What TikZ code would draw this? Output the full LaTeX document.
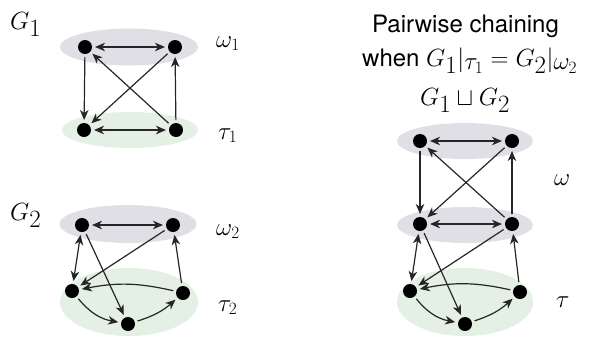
\documentclass[tikz,border=0pt]{standalone}
\usepackage{fontspec}
\setsansfont{TeX Gyre Heros}
\usetikzlibrary{arrows.meta}
\DeclareMathSizes{29}{29}{23}{18}
\DeclareMathSizes{28}{28}{23}{18}
\DeclareMathSizes{24}{24}{19}{15}
\definecolor{gcol}{HTML}{E0DFE6}
\definecolor{tcol}{HTML}{E3F0E3}
\begin{document}
\begin{tikzpicture}[x=1pt,y=-1pt,
  dot/.style={circle,fill=black,minimum size=14pt,inner sep=0pt,outer sep=3pt},
  edge/.style={draw=black!85,line width=1.2pt,-{Stealth[length=10pt,width=8.5pt,inset=3pt]}},
  bi/.style={draw=black!85,line width=1.2pt,{Stealth[length=10pt,width=8.5pt,inset=3pt]}-{Stealth[length=10pt,width=8.5pt,inset=3pt]}},
  biglab/.style={anchor=base west,inner sep=0pt,font=\fontsize{29}{32}\selectfont},
  lab/.style={anchor=base west,inner sep=0pt,font=\fontsize{24}{28}\selectfont},
  txt/.style={anchor=base west,inner sep=0pt,font=\sffamily\fontsize{24}{28}\selectfont}]
\useasboundingbox (0,0) rectangle (592,338);
% ellipses
\fill[gcol] (129,47) ellipse [x radius=69, y radius=18.5];
\fill[tcol] (130,130) ellipse [x radius=68, y radius=18];
\fill[gcol] (128,224) ellipse [x radius=68.5, y radius=19];
\fill[tcol] (129,302) ellipse [x radius=69, y radius=34];
\fill[gcol] (465,141) ellipse [x radius=68, y radius=18];
\fill[gcol] (465,225) ellipse [x radius=68, y radius=18];
\fill[tcol] (465,302) ellipse [x radius=68, y radius=34];
% labels
\node[biglab] (g1) at (10,29) {$G_1$};
\node[biglab] (g2) at (10,220) {$G_2$};
\node[lab] (w1) at (216,47) {$\omega_1$};
\node[lab] (t1) at (218,139) {$\tau_1$};
\node[lab] (w2) at (216,235) {$\omega_2$};
\node[lab] (t2) at (218,311) {$\tau_2$};
\node[lab] (w) at (554,185) {$\omega$};
\node[lab] (t) at (556,307) {$\tau$};
\node[txt] (p1) at (372,32) {Pairwise chaining};
\node[txt] (p2) at (362,66) {when {\fontsize{28}{30}\selectfont$G_1|_{\tau_1} = G_2|_{\omega_2}$}};
\node[anchor=base,inner sep=0pt,font=\fontsize{29}{32}\selectfont] (p3) at (465,105) {$G_1 \sqcup G_2$};
% G1
\node[dot] (a1) at (85,47) {};
\node[dot] (b1) at (175,47) {};
\node[dot] (c1) at (84,130) {};
\node[dot] (d1) at (176,130) {};
\draw[bi] (a1) -- (b1);
\draw[bi] (c1) -- (d1);
\draw[edge] (a1) -- (c1);
\draw[edge] (d1) -- (b1);
\draw[edge] (d1) -- (a1);
\draw[edge] (b1) -- (c1);
% G2
\node[dot] (a2) at (82,225) {};
\node[dot] (b2) at (173,225) {};
\node[dot] (l2) at (72,291) {};
\node[dot] (r2) at (183,293) {};
\node[dot] (m2) at (128,324) {};
\draw[bi] (a2) -- (b2);
\draw[bi] (a2) -- (l2);
\draw[edge] (b2) -- (l2);
\draw[edge] (a2) -- (m2);
\draw[edge] (r2) -- (b2);
\draw[edge] (r2) to[bend right=12] (l2);
\draw[edge] (l2) to[bend right=20] (m2);
\draw[edge] (m2) to[bend right=12] (r2);
% G1 u G2
\node[dot] (a3) at (420,141) {};
\node[dot] (b3) at (512,141) {};
\node[dot] (c3) at (420,224) {};
\node[dot] (d3) at (512,224) {};
\node[dot] (l3) at (410,291) {};
\node[dot] (r3) at (520,292) {};
\node[dot] (m3) at (465,324) {};
\draw[bi] (a3) -- (b3);
\draw[bi] (c3) -- (d3);
\draw[edge] (a3) -- (c3);
\draw[edge] (d3) -- (b3);
\draw[edge] (d3) -- (a3);
\draw[edge] (b3) -- (c3);
\draw[bi] (c3) -- (l3);
\draw[edge] (d3) -- (l3);
\draw[edge] (c3) -- (m3);
\draw[edge] (r3) -- (d3);
\draw[edge] (r3) to[bend right=12] (l3);
\draw[edge] (l3) to[bend right=20] (m3);
\draw[edge] (m3) to[bend right=12] (r3);
\end{tikzpicture}
\end{document}
